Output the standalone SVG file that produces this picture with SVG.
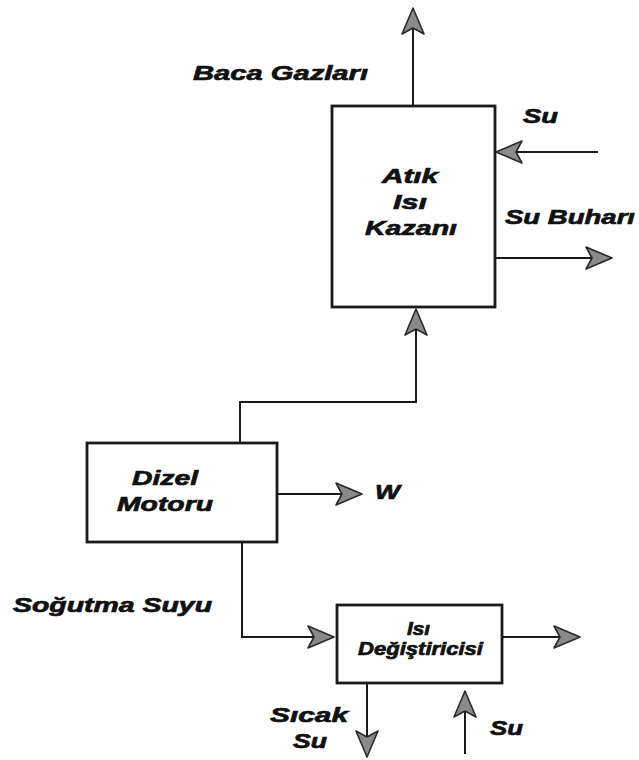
<svg xmlns="http://www.w3.org/2000/svg" width="639" height="760" viewBox="0 0 639 760">
<defs>
<style>
.box{fill:#fff;stroke:#1a1a1a;stroke-width:2.8}
.ln{fill:none;stroke:#1a1a1a;stroke-width:2}
.t{font-family:"Liberation Sans",Arial,sans-serif;font-weight:bold;font-style:italic;fill:#111;stroke:#111;stroke-width:0.7}
</style>
<marker id="ah" markerUnits="userSpaceOnUse" markerWidth="30" markerHeight="26" viewBox="-28 -13 30 26" refX="0" refY="0" orient="auto">
<path d="M0,0 L-26,-11 L-20,0 L-26,11 Z" fill="#8a8a8a" stroke="#2a2a2a" stroke-width="1.6" stroke-linejoin="round"/>
</marker>
</defs>
<rect width="639" height="760" fill="#fff"/>
<g id="connectors">
<path class="ln" d="M413,106 V8" marker-end="url(#ah)"/>
<path class="ln" d="M598,152 H496" marker-end="url(#ah)"/>
<path class="ln" d="M495,258 H612" marker-end="url(#ah)"/>
<path class="ln" d="M240,443 V402 H416 V309" marker-end="url(#ah)"/>
<path class="ln" d="M277,494 H362" marker-end="url(#ah)"/>
<path class="ln" d="M242,542 V637 H334" marker-end="url(#ah)"/>
<path class="ln" d="M502,637 H580" marker-end="url(#ah)"/>
<path class="ln" d="M367,684 V757" marker-end="url(#ah)"/>
<path class="ln" d="M465,754 V691" marker-end="url(#ah)"/>
</g>
<g id="kazan">
<rect class="box" x="332" y="106" width="163" height="201"/>
<text class="t" x="382" y="183" font-size="21" textLength="56" lengthAdjust="spacingAndGlyphs">Atık</text>
<text class="t" x="393" y="209" font-size="21" textLength="34" lengthAdjust="spacingAndGlyphs">Isı</text>
<text class="t" x="365" y="235" font-size="21" textLength="92" lengthAdjust="spacingAndGlyphs">Kazanı</text>
</g>
<g id="dizel">
<rect class="box" x="87" y="443" width="190" height="99"/>
<text class="t" x="132" y="485" font-size="21" textLength="66" lengthAdjust="spacingAndGlyphs">Dizel</text>
<text class="t" x="117" y="511" font-size="21" textLength="96" lengthAdjust="spacingAndGlyphs">Motoru</text>
</g>
<g id="esanjor">
<rect class="box" x="337" y="605" width="165" height="78"/>
<text class="t" x="407" y="635" font-size="18" textLength="23" lengthAdjust="spacingAndGlyphs">Isı</text>
<text class="t" x="358" y="655" font-size="18" textLength="125" lengthAdjust="spacingAndGlyphs">Değiştiricisi</text>
</g>
<g id="labels">
<text class="t" x="193" y="80" font-size="21" textLength="175" lengthAdjust="spacingAndGlyphs">Baca Gazları</text>
<text class="t" x="523" y="123" font-size="21" textLength="35" lengthAdjust="spacingAndGlyphs">Su</text>
<text class="t" x="505" y="224" font-size="21" textLength="130" lengthAdjust="spacingAndGlyphs">Su Buharı</text>
<text class="t" x="375" y="499" font-size="21" textLength="25" lengthAdjust="spacingAndGlyphs">W</text>
<text class="t" x="13" y="612" font-size="21" textLength="199" lengthAdjust="spacingAndGlyphs">Soğutma Suyu</text>
<text class="t" x="270" y="722" font-size="21" textLength="78" lengthAdjust="spacingAndGlyphs">Sıcak</text>
<text class="t" x="293" y="748" font-size="21" textLength="34" lengthAdjust="spacingAndGlyphs">Su</text>
<text class="t" x="490" y="735" font-size="21" textLength="33" lengthAdjust="spacingAndGlyphs">Su</text>
</g>
</svg>
